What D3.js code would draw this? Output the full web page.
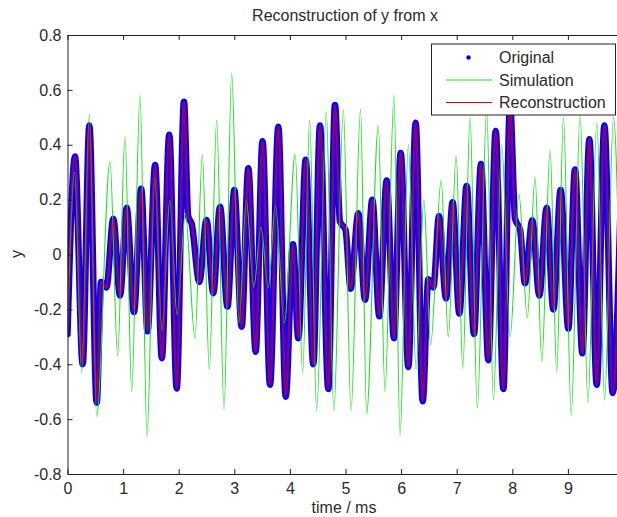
<!DOCTYPE html>
<html>
<head>
<meta charset="utf-8">
<script src="https://cdn.jsdelivr.net/npm/d3@7/dist/d3.min.js"></script>
<style>
  body { margin: 0; background: #fff; }
  text { font-family: Arial, "Liberation Sans", sans-serif; fill: #2a2a2a; }
</style>
</head>
<body>
<div id="chart"></div>
<script>
// turning points: time in ms, value of y
var origT = [0.00, 0.135, 0.273, 0.393, 0.525, 0.605, 0.70, 0.824, 0.944, 1.064, 1.196, 1.325, 1.44, 1.576, 1.697, 1.83, 1.964, 2.095, 2.17, 2.235, 2.371, 2.50, 2.622, 2.743, 2.877, 3.00, 3.132, 3.252, 3.384, 3.508, 3.642, 3.792, 3.924, 4.055, 4.152, 4.284, 4.421, 4.541, 4.691, 4.811, 4.90, 5.00, 5.093, 5.231, 5.351, 5.483, 5.608, 5.741, 5.872, 5.993, 6.130, 6.262, 6.388, 6.490, 6.580, 6.682, 6.807, 6.927, 7.047, 7.179, 7.311, 7.437, 7.569, 7.701, 7.839, 7.959, 8.05, 8.14, 8.228, 8.36, 8.486, 8.618, 8.738, 8.87, 9.008, 9.128, 9.26, 9.386, 9.518, 9.656, 9.806, 9.95];
var origY = [-0.29, 0.357, -0.40, 0.47, -0.54, -0.10, -0.12, 0.13, -0.15, 0.17, -0.21, 0.24, -0.28, 0.326, -0.378, 0.436, -0.488, 0.557, 0.14, 0.11, -0.10, 0.126, -0.141, 0.174, -0.19, 0.235, -0.263, 0.314, -0.354, 0.413, -0.475, 0.466, -0.518, 0.037, -0.305, 0.345, -0.40, 0.47, -0.49, 0.545, 0.12, 0.09, -0.125, 0.15, -0.165, 0.20, -0.225, 0.27, -0.305, 0.37, -0.41, 0.48, -0.535, -0.09, -0.12, 0.14, -0.16, 0.19, -0.215, 0.25, -0.29, 0.33, -0.385, 0.45, -0.49, 0.55, 0.13, 0.09, -0.105, 0.125, -0.15, 0.17, -0.20, 0.235, -0.27, 0.31, -0.36, 0.42, -0.475, 0.47, -0.505, 0.20];

var simT = [0.00, 0.13, 0.255, 0.393, 0.525, 0.764, 0.902, 1.034, 1.154, 1.304, 1.430, 1.568, 1.70, 1.84, 1.97, 2.12, 2.293, 2.425, 2.551, 2.683, 2.815, 2.953, 3.085, 3.215, 3.35, 3.48, 3.61, 3.74, 3.90, 4.095, 4.23, 4.355, 4.481, 4.655, 4.79, 4.961, 5.10, 5.27, 5.38, 5.59, 5.71, 5.872, 5.98, 6.13, 6.27, 6.41, 6.53, 6.72, 6.85, 6.99, 7.11, 7.24, 7.37, 7.54, 7.66, 7.81, 7.96, 8.12, 8.27, 8.41, 8.53, 8.68, 8.80, 8.92, 9.06, 9.22, 9.36, 9.52, 9.66, 9.82, 9.95];
var simY = [-0.28, 0.30, -0.43, 0.51, -0.59, 0.34, -0.37, 0.43, -0.50, 0.58, -0.664, 0.28, -0.28, 0.20, -0.22, 0.15, -0.305, 0.363, -0.42, 0.49, -0.567, 0.66, -0.25, 0.20, -0.12, 0.10, -0.12, 0.18, -0.25, 0.365, -0.43, 0.49, -0.57, 0.52, -0.57, 0.527, -0.57, 0.53, -0.58, 0.47, -0.50, 0.58, -0.66, 0.40, -0.42, 0.20, -0.33, 0.27, -0.30, 0.36, -0.415, 0.50, -0.56, 0.53, -0.53, 0.40, -0.30, 0.22, -0.23, 0.28, -0.39, 0.38, -0.43, 0.50, -0.585, 0.51, -0.54, 0.48, -0.53, 0.50, -0.30];

var xTicks = [0, 1, 2, 3, 4, 5, 6, 7, 8, 9];
var yTicks = [-0.8, -0.6, -0.4, -0.2, 0, 0.2, 0.4, 0.6, 0.8];
var legendNames = ["Original", "Simulation", "Reconstruction"];

var width = 617, height = 517;
var ml = 67.5, mt = 35, mb = 474, mr = 623.5;

var svg = d3.select("#chart")
  .append("svg")
    .attr("width", width)
    .attr("height", height);

var x = d3.scaleLinear().domain([0, 10]).range([ml, mr]);
var y = d3.scaleLinear().domain([-0.8, 0.8]).range([mb, mt]);

svg.append("clipPath")
    .attr("id", "plotclip")
  .append("rect")
    .attr("x", ml)
    .attr("y", mt)
    .attr("width", mr - ml)
    .attr("height", mb - mt);

function pts(ts, ys) {
  return ts.map(function(t, i) { return [t, ys[i]]; });
}

var line = d3.line()
  .x(function(d) { return x(d[0]); })
  .y(function(d) { return y(d[1]); })
  .curve(d3.curveMonotoneX);

var plot = svg.append("g").attr("clip-path", "url(#plotclip)");

// original: thick blue dots, drawn as a wide round stroke
plot.append("path")
  .datum(pts(origT, origY))
  .attr("d", line)
  .attr("fill", "none")
  .attr("stroke", "#0000ff")
  .attr("stroke-width", 6.5)
  .attr("stroke-linejoin", "round")
  .attr("stroke-linecap", "round");

plot.append("path")
  .datum(pts(simT, simY))
  .attr("d", line)
  .attr("fill", "none")
  .attr("stroke", "#1fe01f")
  .attr("stroke-width", 1.1);

plot.append("path")
  .datum(pts(origT, origY))
  .attr("d", line)
  .attr("fill", "none")
  .attr("stroke", "#ff0000")
  .attr("stroke-opacity", 0.55)
  .attr("stroke-width", 2.5);

// axes
svg.append("g")
  .attr("transform", "translate(0," + mb + ")")
  .call(d3.axisBottom(x).tickValues(xTicks).tickSize(-5).tickSizeOuter(0).tickPadding(9).tickFormat(d3.format("d")));

svg.append("g")
  .attr("transform", "translate(0," + mt + ")")
  .call(d3.axisTop(x).tickValues(xTicks).tickSize(-5).tickSizeOuter(0).tickFormat(""));

svg.append("g")
  .attr("transform", "translate(" + ml + ",0)")
  .call(d3.axisLeft(y).tickValues(yTicks).tickSize(-5).tickSizeOuter(0).tickPadding(6)
    .tickFormat(function(d) { return d === 0 ? "0" : d.toFixed(1); }));

svg.selectAll(".domain").attr("stroke", "#222");
svg.selectAll(".tick line").attr("stroke", "#222");
svg.selectAll(".tick text").style("font-size", "16px").attr("fill", "#2a2a2a");

// title and labels
svg.append("text")
  .attr("x", 345)
  .attr("y", 21)
  .attr("text-anchor", "middle")
  .style("font-size", "16px")
  .text("Reconstruction of y from x");

svg.append("text")
  .attr("x", 344)
  .attr("y", 513)
  .attr("text-anchor", "middle")
  .style("font-size", "16px")
  .text("time / ms");

svg.append("text")
  .attr("transform", "translate(22,254) rotate(-90)")
  .attr("text-anchor", "middle")
  .style("font-size", "16px")
  .text("y");

// legend
var lg = svg.append("g");
lg.append("rect")
  .attr("x", 431.5)
  .attr("y", 44)
  .attr("width", 184)
  .attr("height", 71)
  .attr("fill", "#fff")
  .attr("stroke", "#222");

var rowY = [57.5, 80, 102.5];
lg.append("circle")
  .attr("cx", 468.5)
  .attr("cy", rowY[0])
  .attr("r", 2.2)
  .attr("fill", "#0000cc");
lg.append("line")
  .attr("x1", 446).attr("x2", 492)
  .attr("y1", rowY[1]).attr("y2", rowY[1])
  .attr("stroke", "#1fe01f").attr("stroke-width", 1.1);
lg.append("line")
  .attr("x1", 446).attr("x2", 492)
  .attr("y1", rowY[2]).attr("y2", rowY[2])
  .attr("stroke", "#dd0000").attr("stroke-width", 1.1);

lg.selectAll("text.leg")
  .data(legendNames)
  .enter()
  .append("text")
    .attr("class", "leg")
    .attr("x", 499)
    .attr("y", function(d, i) { return rowY[i]; })
    .attr("dy", "0.36em")
    .style("font-size", "16px")
    .text(function(d) { return d; });
</script>
</body>
</html>
